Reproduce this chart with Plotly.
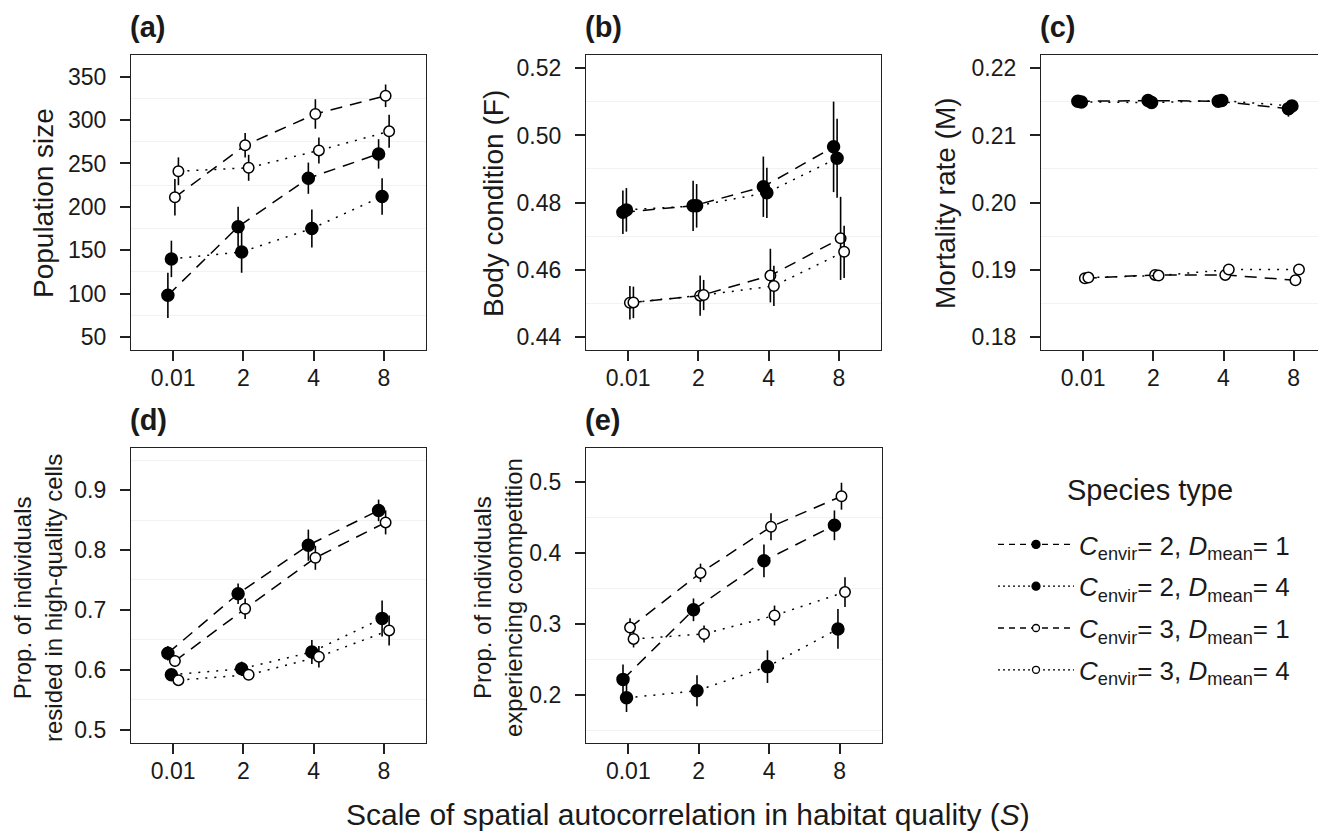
import plotly.graph_objects as go

# ---------------- data ----------------
categories = ["0.01", "2", "4", "8"]
series_names = [
    "<i>C</i><sub>envir</sub>= 2, <i>D</i><sub>mean</sub>= 1",
    "<i>C</i><sub>envir</sub>= 2, <i>D</i><sub>mean</sub>= 4",
    "<i>C</i><sub>envir</sub>= 3, <i>D</i><sub>mean</sub>= 1",
    "<i>C</i><sub>envir</sub>= 3, <i>D</i><sub>mean</sub>= 4",
]

# (a) Population size
pop_c2d1 = [98, 177, 233, 261]
pop_c2d1_err = [26, 23, 18, 17]
pop_c2d4 = [140, 148, 175, 212]
pop_c2d4_err = [21, 24, 22, 21]
pop_c3d1 = [211, 271, 307, 328]
pop_c3d1_err = [21, 14, 17, 13]
pop_c3d4 = [241, 245, 265, 287]
pop_c3d4_err = [16, 15, 15, 19]

# (b) Body condition (F)
bc_c2d1 = [0.4771, 0.4790, 0.4847, 0.4966]
bc_c2d1_err = [0.0065, 0.0075, 0.0090, 0.0135]
bc_c2d4 = [0.4778, 0.4790, 0.4829, 0.4932]
bc_c2d4_err = [0.0065, 0.0065, 0.0075, 0.0118]
bc_c3d1 = [0.4501, 0.4522, 0.4582, 0.4693]
bc_c3d1_err = [0.0050, 0.0060, 0.0080, 0.0124]
bc_c3d4 = [0.4502, 0.4524, 0.4551, 0.4653]
bc_c3d4_err = [0.0047, 0.0045, 0.0060, 0.0078]

# (c) Mortality rate (M)
mr_c2d1 = [0.2151, 0.2152, 0.2151, 0.2140]
mr_c2d1_err = [0.0006, 0.0006, 0.0006, 0.0012]
mr_c2d4 = [0.2150, 0.2149, 0.2152, 0.2144]
mr_c2d4_err = [0.0006, 0.0006, 0.0005, 0.0008]
mr_c3d1 = [0.1887, 0.1892, 0.1892, 0.1884]
mr_c3d1_err = [0.0003, 0.0003, 0.0004, 0.0006]
mr_c3d4 = [0.1888, 0.1891, 0.1900, 0.1900]
mr_c3d4_err = [0.0003, 0.0002, 0.0003, 0.0004]

# (d) Prop. of individuals resided in high-quality cells
hq_c2d1 = [0.628, 0.727, 0.808, 0.866]
hq_c2d1_err = [0.012, 0.017, 0.026, 0.018]
hq_c2d4 = [0.592, 0.602, 0.630, 0.686]
hq_c2d4_err = [0.008, 0.012, 0.020, 0.030]
hq_c3d1 = [0.615, 0.702, 0.787, 0.846]
hq_c3d1_err = [0.010, 0.017, 0.020, 0.020]
hq_c3d4 = [0.583, 0.592, 0.622, 0.666]
hq_c3d4_err = [0.006, 0.008, 0.018, 0.025]

# (e) Prop. of individuals experiencing coompetition
co_c2d1 = [0.222, 0.320, 0.389, 0.439]
co_c2d1_err = [0.021, 0.016, 0.023, 0.021]
co_c2d4 = [0.196, 0.206, 0.240, 0.293]
co_c2d4_err = [0.020, 0.022, 0.023, 0.028]
co_c3d1 = [0.295, 0.372, 0.437, 0.480]
co_c3d1_err = [0.013, 0.013, 0.019, 0.019]
co_c3d4 = [0.279, 0.286, 0.312, 0.345]
co_c3d4_err = [0.012, 0.012, 0.014, 0.021]

panel_labels = ["(a)", "(b)", "(c)", "(d)", "(e)"]
y_titles = [
    "Population size",
    "Body condition (F)",
    "Mortality rate (M)",
    "Prop. of individuals<br>resided in high-quality cells",
    "Prop. of individuals<br>experiencing coompetition",
]
x_title = "Scale of spatial autocorrelation in habitat quality (<i>S</i>)"
legend_title = "Species type"

panels = [
    [(pop_c2d1, pop_c2d1_err), (pop_c2d4, pop_c2d4_err), (pop_c3d1, pop_c3d1_err), (pop_c3d4, pop_c3d4_err)],
    [(bc_c2d1, bc_c2d1_err), (bc_c2d4, bc_c2d4_err), (bc_c3d1, bc_c3d1_err), (bc_c3d4, bc_c3d4_err)],
    [(mr_c2d1, mr_c2d1_err), (mr_c2d4, mr_c2d4_err), (mr_c3d1, mr_c3d1_err), (mr_c3d4, mr_c3d4_err)],
    [(hq_c2d1, hq_c2d1_err), (hq_c2d4, hq_c2d4_err), (hq_c3d1, hq_c3d1_err), (hq_c3d4, hq_c3d4_err)],
    [(co_c2d1, co_c2d1_err), (co_c2d4, co_c2d4_err), (co_c3d1, co_c3d1_err), (co_c3d4, co_c3d4_err)],
]

# ---------------- styles / layout ----------------
W, H = 1326, 836
FONT = "Liberation Sans, Arial, Helvetica, sans-serif"
INK = "#1a1a1a"

fills = ["black", "black", "white", "white"]
dashes = ["12px,8px", "2px,7px", "12px,8px", "2px,7px"]
legend_dashes = ["6px,5px", "2px,3px", "6px,5px", "2px,3px"]
dodge = [-0.075, -0.025, 0.025, 0.075]

# pixel boxes: (x0, x1, ytop, ybottom)
boxes = [
    (123, 418, 47, 342),
    (578, 873, 47, 342),
    (1033, 1326, 47, 342),
    (123, 418, 440, 735),
    (578, 874, 440, 735),
]
xranges = [[0.4, 4.6], [0.4, 4.6], [0.4, 4.574], [0.4, 4.6], [0.4, 4.6]]
yranges = [[35, 375], [0.436, 0.524], [0.178, 0.222], [0.4783, 0.97], [0.1324, 0.5479]]
ydticks = [50, 0.02, 0.01, 0.1, 0.1]
ytick0 = [50, 0.44, 0.18, 0.5, 0.2]
yformats = ["d", ".2f", ".2f", ".1f", ".1f"]

fig = go.Figure()

for p, series in enumerate(panels):
    xa = "x" if p == 0 else f"x{p+1}"
    ya = "y" if p == 0 else f"y{p+1}"
    for s, (vals, errs) in enumerate(series):
        xs = [i + 1 + dodge[s] for i in range(len(categories))]
        fig.add_trace(go.Scatter(
            x=xs, y=vals, xaxis=xa, yaxis=ya,
            mode="lines+markers",
            line=dict(color="black", width=1.5, dash=dashes[s]),
            marker=dict(symbol="circle", size=12 if s < 2 else 10.5,
                        color=fills[s], line=dict(color="black", width=1.5)),
            error_y=dict(type="data", array=errs, symmetric=True,
                         color="black", thickness=1.6, width=0),
            showlegend=False, hoverinfo="skip",
        ))

# legend-only dummy traces (smaller glyphs like the reference key)
for s in range(4):
    fig.add_trace(go.Scatter(
        x=[None], y=[None], mode="lines+markers", name=series_names[s],
        legendgroup=f"g{s}",
        line=dict(color="black", width=1.3, dash=legend_dashes[s]),
        marker=dict(symbol="circle", size=8 if s < 2 else 7,
                    color=fills[s], line=dict(color="black", width=1.3)),
        showlegend=True,
    ))

layout = dict(
    width=W, height=H,
    margin=dict(l=0, r=0, t=0, b=0),
    paper_bgcolor="white", plot_bgcolor="white",
    font=dict(family=FONT, color=INK, size=23),
    showlegend=True,
    legend=dict(
        x=985 / W, y=1 - 513 / H, xanchor="left", yanchor="top",
        font=dict(size=26, family=FONT, color=INK),
        itemwidth=76, tracegroupgap=5,
        bgcolor="rgba(0,0,0,0)",
    ),
)

annotations = []
for p in range(5):
    x0, x1, yt, yb = boxes[p]
    xkey = "xaxis" if p == 0 else f"xaxis{p+1}"
    ykey = "yaxis" if p == 0 else f"yaxis{p+1}"
    yanchor_name = "y" if p == 0 else f"y{p+1}"
    xanchor_name = "x" if p == 0 else f"x{p+1}"
    dt = ydticks[p]
    layout[xkey] = dict(
        domain=[x0 / W, x1 / W], anchor=yanchor_name,
        range=xranges[p], tickmode="array", tickvals=[1, 2, 3, 4], ticktext=categories,
        showline=True, mirror=True, linecolor="#222", linewidth=1.3,
        ticks="outside", ticklen=10, tickwidth=1.5, tickcolor="#222",
        showgrid=False, zeroline=False, ticklabelstandoff=-3,
        tickfont=dict(size=23, family=FONT, color=INK), fixedrange=True,
    )
    layout[ykey] = dict(
        domain=[1 - yb / H, 1 - yt / H], anchor=xanchor_name,
        range=yranges[p], tick0=ytick0[p], dtick=dt, tickformat=yformats[p],
        showline=True, mirror=(p != 2), linecolor="#222", linewidth=1.3,
        ticks="outside", ticklen=10, tickwidth=1.5, tickcolor="#222",
        showgrid=False, zeroline=False, ticklabelstandoff=9,
        minor=dict(tick0=ytick0[p] + dt / 2, dtick=dt, showgrid=True,
                   gridcolor="#f2f2f2", gridwidth=1, ticks=""),
        tickfont=dict(size=23, family=FONT, color=INK), fixedrange=True,
    )
    # panel letter
    annotations.append(dict(
        text=f"<b>{panel_labels[p]}</b>", xref="paper", yref="paper",
        x=x0 / W - 0.002, y=1 - (yt - 28) / H, xanchor="left", yanchor="middle",
        showarrow=False, font=dict(size=29, family=FONT, color=INK),
    ))

# legend title
annotations.append(dict(
    text=legend_title, xref="paper", yref="paper",
    x=1142 / W, y=1 - 482 / H, xanchor="center", yanchor="middle",
    showarrow=False, font=dict(size=29, family=FONT, color=INK),
))

# y-axis titles
ytitle_pos = [(36, 195), (486, 195), (938, 195), (30, 590), (490, 590)]
ytitle_size = [28, 28, 28, 24, 24]
for p in range(5):
    cx, cy = ytitle_pos[p]
    annotations.append(dict(
        text=y_titles[p], xref="paper", yref="paper",
        x=cx / W, y=1 - cy / H, xanchor="center", yanchor="middle",
        textangle=-90, showarrow=False,
        font=dict(size=ytitle_size[p], family=FONT, color=INK),
    ))

# x-axis title
annotations.append(dict(
    text=x_title, xref="paper", yref="paper",
    x=680 / W, y=1 - 806 / H, xanchor="center", yanchor="middle",
    showarrow=False, font=dict(size=30, family=FONT, color=INK),
))

layout["annotations"] = annotations
fig.update_layout(**layout)

fig.write_html("out.html")
